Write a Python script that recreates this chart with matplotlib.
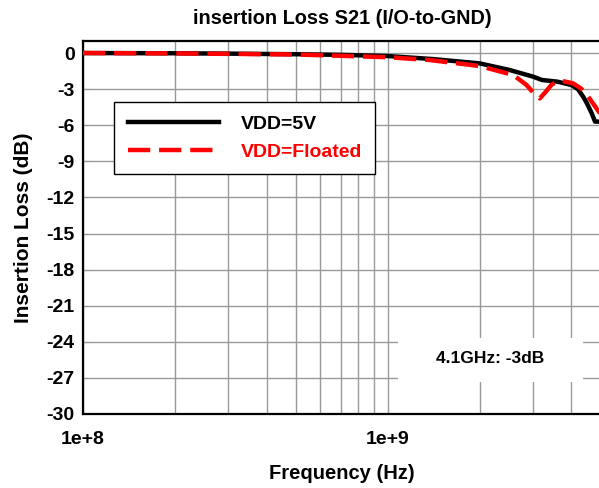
import numpy as np
import matplotlib

matplotlib.use("Agg")
import matplotlib.pyplot as plt
from matplotlib.patches import Rectangle
from matplotlib.ticker import FixedLocator, FuncFormatter, NullFormatter

plt.rcParams["font.family"] = ["Liberation Sans", "DejaVu Sans"]
plt.rcParams["font.weight"] = "bold"
plt.rcParams["axes.unicode_minus"] = False

# VDD=5V (black)
freq_5v = [1e8, 2e8, 3e8, 5e8, 7e8, 1e9, 1.4e9, 2e9, 2.5e9, 3e9, 3.2e9,
           3.6e9, 4e9, 4.2e9, 4.37e9, 4.5e9, 4.66e9, 4.78e9, 5e9]
loss_5v = [0.0, -0.02, -0.05, -0.1, -0.15, -0.25, -0.5, -0.86, -1.4, -1.97, -2.24,
           -2.38, -2.66, -3.0, -3.63, -4.2, -5.0, -5.7, -5.7]

# VDD=Floated (red dashed)
freq_fl = [1e8, 2e8, 5e8, 1e9, 1.37e9, 2e9, 2.58e9, 2.85e9, 3.0e9, 3.15e9,
           3.3e9, 3.45e9, 3.7e9, 4.05e9, 4.3e9, 4.5e9, 4.92e9, 5e9]
loss_fl = [0.0, -0.03, -0.12, -0.35, -0.58, -1.08, -1.83, -2.66, -3.3, -3.77,
           -3.2, -2.6, -2.3, -2.52, -2.95, -3.49, -4.88, -5.1]

yticks = list(range(0, -31, -3))
xmajor = [1e8, 1e9]
xmajor_labels = ["1e+8", "1e+9"]
xminor = [2e8, 3e8, 4e8, 5e8, 6e8, 7e8, 8e8, 9e8, 2e9, 3e9, 4e9]

fig = plt.figure(figsize=(5.99, 4.88), dpi=100)
ax = fig.add_axes([83 / 599, 74 / 488, 518 / 599, 373 / 488])

ax.plot(freq_5v, loss_5v, color="black", lw=3.2, label="VDD=5V", zorder=3)
ax.plot(freq_fl, loss_fl, color="red", lw=3.2, dashes=(5, 2), label="VDD=Floated", zorder=4)

ax.set_xscale("log")
ax.set_xlim(1e8, 5e9)
ax.set_ylim(-30, 1)
ax.set_yticks(yticks)
ax.xaxis.set_major_locator(FixedLocator(xmajor))
ax.xaxis.set_major_formatter(FuncFormatter(lambda v, p: xmajor_labels[xmajor.index(v)] if v in xmajor else ""))
ax.xaxis.set_minor_locator(FixedLocator(xminor))
ax.xaxis.set_minor_formatter(NullFormatter())

ax.grid(True, which="both", color="#999999", lw=1)
ax.set_axisbelow(True)
ax.tick_params(which="both", direction="in", length=4, color="#999999", labelsize=14)
ax.tick_params(axis="y", pad=6)
ax.tick_params(axis="x", pad=12)
for s in ["left", "bottom", "top", "right"]:
    ax.spines[s].set_linewidth(1.6)

ax.set_title("insertion Loss S21 (I/O-to-GND)", fontsize=14.3, fontweight="bold", pad=12)
ax.set_xlabel("Frequency (Hz)", fontsize=14.5, fontweight="bold", labelpad=12)
ax.set_ylabel("Insertion Loss (dB)", fontsize=15, fontweight="bold", labelpad=10)

leg = ax.legend(loc="upper left", bbox_to_anchor=(114 / 599, 1 - 102 / 488),
                bbox_transform=fig.transFigure, borderaxespad=0, fontsize=14,
                handlelength=4.7, handletextpad=1.1, labelspacing=0.5,
                borderpad=0.7, fancybox=False, framealpha=1, edgecolor="black")
leg.get_frame().set_linewidth(1.0)
leg.get_texts()[1].set_color("red")

ax.add_patch(Rectangle((0.608, 0.086), 0.357, 0.118, transform=ax.transAxes,
                       facecolor="white", edgecolor="none", zorder=2))
ax.text(0.608 + 0.357 / 2, 0.086 + 0.118 / 2 + 0.005, "4.1GHz: -3dB", transform=ax.transAxes,
        ha="center", va="center", fontsize=12.5, fontweight="bold", zorder=5)

fig.savefig("out.png", dpi=100)
